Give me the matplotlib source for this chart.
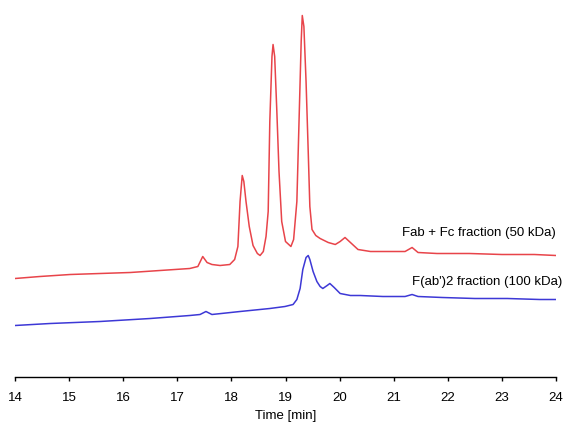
import matplotlib.pyplot as plt

plt.rcParams['font.family'] = ['Liberation Sans', 'DejaVu Sans']

# Retention time [min] and signal (arbitrary units)
red_time = [14.00, 14.46, 15.02, 15.57, 16.13, 16.68, 17.23, 17.38, 17.47, 17.55,
            17.64, 17.79, 17.97, 18.06, 18.12, 18.16, 18.20, 18.23, 18.27, 18.33,
            18.40, 18.48, 18.53, 18.59, 18.64, 18.68, 18.71, 18.75, 18.77, 18.80,
            18.84, 18.88, 18.93, 19.00, 19.10, 19.15, 19.21, 19.25, 19.29, 19.31,
            19.34, 19.38, 19.42, 19.45, 19.49, 19.56, 19.64, 19.79, 19.92, 20.01,
            20.10, 20.20, 20.34, 20.57, 20.90, 21.21, 21.34, 21.45, 21.80, 22.40,
            23.00, 23.60, 24.00]
red_signal = [98, 100, 102, 103, 104, 106, 108, 110, 120, 114,
              112, 111, 112, 117, 130, 175, 201, 195, 175, 150,
              131, 123, 121, 125, 140, 165, 255, 320, 332, 320,
              265, 205, 155, 135, 130, 137, 175, 255, 335, 361,
              350, 295, 225, 170, 147, 141, 138, 134, 132, 135,
              139, 134, 127, 125, 125, 125, 129, 124, 123, 123,
              122, 122, 121]

blue_time = [14.00, 14.65, 15.57, 16.50, 17.23, 17.42, 17.53, 17.64, 18.16, 18.71,
             18.99, 19.14, 19.21, 19.27, 19.32, 19.38, 19.42, 19.45, 19.51, 19.58,
             19.64, 19.69, 19.77, 19.82, 19.90, 20.01, 20.20, 20.38, 20.80, 21.21,
             21.34, 21.45, 21.90, 22.50, 23.10, 23.70, 24.00]
blue_signal = [51, 53, 55, 58, 61, 62, 65, 62, 65, 68,
               70, 72, 77, 88, 107, 119, 121, 117, 105, 95,
               90, 88, 91, 93, 89, 83, 81, 81, 80, 80,
               82, 80, 79, 78, 78, 77, 77]

xticks = list(range(14, 25))

fig = plt.figure(figsize=(5.63, 4.23), dpi=100)
ax = fig.add_axes([15 / 563, 46.5 / 423, 541 / 563, 371.5 / 423])

ax.plot(red_time, red_signal, color='#e8444a', lw=1.1)
ax.plot(blue_time, blue_signal, color='#3d38d6', lw=1.1)

ax.text(24, 143.5, 'Fab + Fc fraction (50 kDa)', ha='right', va='center', fontsize=9.5)
ax.text(24.11, 94.5, "F(ab')2 fraction (100 kDa)", ha='right', va='center', fontsize=9.5)

ax.set_xlim(14, 24)
ax.set_ylim(0, 371.5)
ax.set_xticks(xticks)
ax.set_yticks([])
for side in ['top', 'right', 'left']:
    ax.spines[side].set_visible(False)
ax.spines['bottom'].set_linewidth(1.0)
ax.tick_params(axis='x', direction='out', length=3, width=1, labelsize=9.5, pad=8)
ax.set_xlabel('Time [min]', fontsize=9.5, labelpad=4.5)

fig.savefig('out.png', dpi=100)
